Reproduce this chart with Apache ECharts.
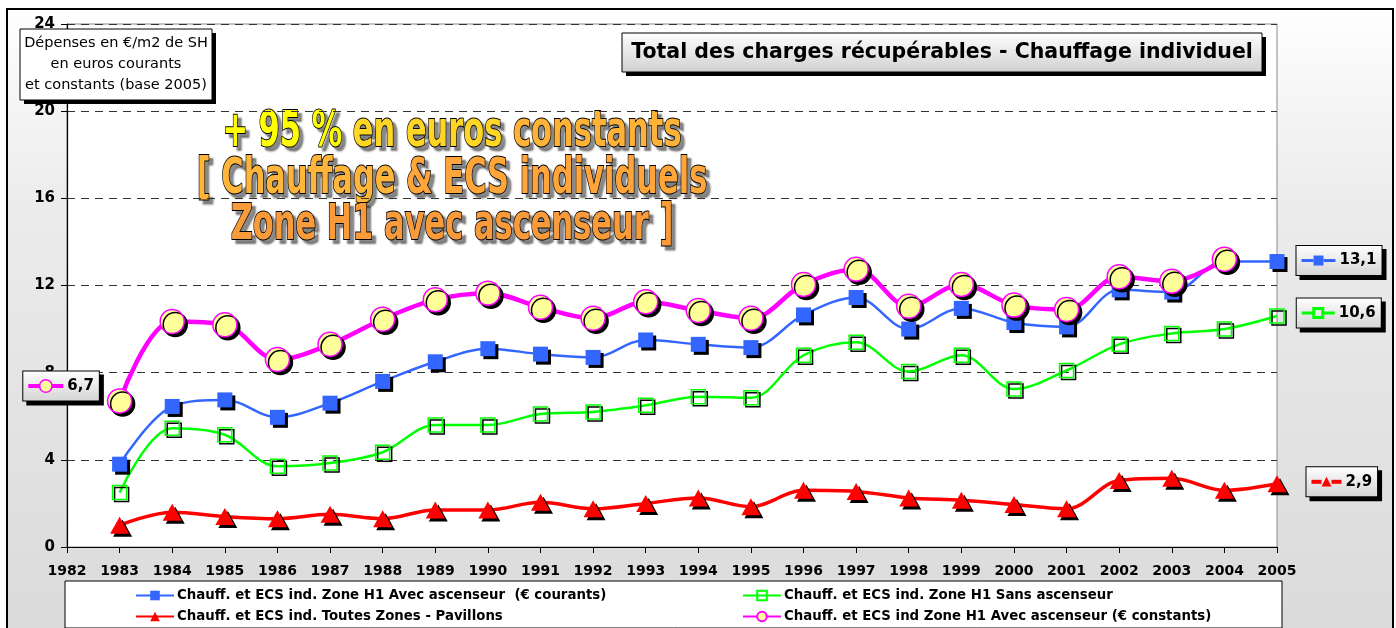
<!DOCTYPE html>
<html>
<head>
<meta charset="utf-8">
<script src="https://cdn.jsdelivr.net/npm/echarts@6/dist/echarts.min.js"></script>
<style>
html,body{margin:0;padding:0;background:#fff;}
#c{width:1396px;height:628px;}
</style>
</head>
<body>
<div id="c"></div>
<script>
// ---- data ----
const years = [1983,1984,1985,1986,1987,1988,1989,1990,1991,1992,1993,1994,1995,1996,1997,1998,1999,2000,2001,2002,2003,2004,2005];
const courants = [3.8,6.45,6.75,5.95,6.6,7.6,8.5,9.1,8.85,8.7,9.5,9.3,9.15,10.65,11.45,10.0,10.95,10.3,10.1,11.8,11.7,13.1,13.1];
const sansAscenseur = [2.5,5.45,5.15,3.7,3.85,4.35,5.6,5.6,6.1,6.2,6.5,6.9,6.85,8.8,9.4,8.05,8.8,7.25,8.1,9.3,9.8,10.0,10.6];
const pavillons = [1.0,1.6,1.4,1.3,1.5,1.3,1.7,1.7,2.05,1.75,2.0,2.25,1.85,2.6,2.55,2.25,2.15,1.95,1.75,3.05,3.15,2.6,2.9];
const constants = [6.7,10.35,10.2,8.6,9.3,10.45,11.35,11.65,11.0,10.5,11.25,10.85,10.5,12.05,12.75,11.05,12.05,11.1,10.9,12.4,12.2,13.2];
const yTicks = [0,4,8,12,16,20,24];
const seriesNames = [
  'Chauff. et ECS ind. Zone H1 Avec ascenseur  (€ courants)',
  'Chauff. et ECS ind. Zone H1 Sans ascenseur',
  'Chauff. et ECS ind. Toutes Zones - Pavillons',
  'Chauff. et ECS ind Zone H1 Avec ascenseur (€ constants)'
];
const titleText = 'Total des charges récupérables - Chauffage individuel';
const unitLines = ['Dépenses en €/m2 de SH', 'en euros courants', 'et constants (base 2005)'];
const noteParts = [
  [['+ 95 % ', 'a'], ['en euros ', 'b'], ['constants', 'c']],
  [['[ Chauffage ', 'd'], ['& ECS individuels', 'e']],
  [['Zone H1 avec ascenseur ]', 'f']]
];

// ---- styles ----
const BLUE = '#3366ff', GREEN = '#00ff00', RED = '#ff0000', MAG = '#ff00ff', YEL = '#ffff99';
const BOLD = "'DejaVu Sans', Verdana, sans-serif";
const NARROW = "'Liberation Sans Narrow', 'DejaVu Sans Condensed', 'Roboto Condensed', 'Liberation Sans', sans-serif";
const shadow = {shadowColor:'#000', shadowOffsetX:3, shadowOffsetY:3, shadowBlur:0};

const chart = echarts.init(document.getElementById('c'));

function fmt(v){ return v.toFixed(1).replace('.', ','); }

function labelBox(pos, dist, offset, keyRich, keyStr){
  return {
    show: true, position: pos, distance: dist, offset: offset,
    formatter: function(p){ return keyStr + '{v|' + fmt(p.value[1]) + '}'; },
    backgroundColor: new echarts.graphic.LinearGradient(0,0,0,1,[{offset:0,color:'#ffffff'},{offset:1,color:'#d4d4d4'}]),
    borderColor: '#000', borderWidth: 1, padding: [5,5,5,5],
    shadowColor:'#000', shadowOffsetX:4, shadowOffsetY:4, shadowBlur:0,
    rich: Object.assign({
      v: {fontFamily: BOLD, fontWeight:'bold', fontSize:15, color:'#000', padding:[0,0,0,4], lineHeight:19}
    }, keyRich)
  };
}

function makeData(vals, labelIndex, label){
  return vals.map(function(v,i){
    const d = {value:[years[i], v]};
    if (i === labelIndex) d.label = label;
    return d;
  });
}

const lineTok = function(c){ return {width:12, height:3, backgroundColor:c, fontSize:1, verticalAlign:'middle'}; };

const blueLabel = labelBox('right', 12, [0,-1], {
  l: lineTok(BLUE), s: {width:10, height:10, backgroundColor:BLUE, fontSize:1}
}, '{l| }{s| }{l| }');
const greenLabel = labelBox('right', 12, [0,-3], {
  l: lineTok(GREEN), s: {width:9, height:9, borderColor:GREEN, borderWidth:1.5, backgroundColor:'transparent', fontSize:1}
}, '{l| }{s| }{l| }');
const redLabel = labelBox('right', 20, [0,-2], {
  l: {width:10, height:4, backgroundColor:RED, fontSize:1},
  t: {fontSize:13, color:RED, fontFamily:BOLD, lineHeight:19}
}, '{l| }{t|▲}{l| }');
const magLabel = labelBox('left', 8, [0,-15], {
  l: {width:12, height:4, backgroundColor:MAG, fontSize:1},
  c: {width:11, height:11, borderRadius:6, backgroundColor:YEL, borderColor:MAG, borderWidth:1.5, fontSize:1}
}, '{l| }{c| }{l| }');

function legendAt(name, left, top){
  return {
    data:[name], left:left, top:top, orient:'horizontal',
    itemWidth:38, itemHeight:12, itemGap:4, padding:0,
    textStyle:{fontFamily:NARROW, fontWeight:'bold', fontSize:14.8, color:'#000', padding:[0,0,0,-2]},
    selectedMode:false
  };
}

const noteRich = {
  a:{fill:'#ffff00'}, b:{fill:'#ffd626'}, c:{fill:'#ffb238'},
  d:{fill:'#ffb43a'}, e:{fill:'#ffa53a'}, f:{fill:'#f99b3a'}
};
function noteText(parts, cy){
  const txt = parts.map(function(p){ return '{' + p[1] + '|' + p[0] + '}'; }).join('');
  return {
    type:'group', x:452, y:cy, scaleX:0.61, z:50,
    children:[{
      type:'text', x:0, y:0,
      style:{text:txt, rich:noteRich, font:"bold 50px 'DejaVu Sans', sans-serif", textAlign:'center', textVerticalAlign:'middle',
        fill:'#ffb238', stroke:'#000', lineWidth:2,
        textShadowColor:'rgba(0,0,0,0.45)', textShadowOffsetX:4, textShadowOffsetY:4, textShadowBlur:2}
    }]
  };
}

const option = {
  backgroundColor:'#ffffff',
  animation:false,
  grid:{left:67, right:119, top:24, bottom:81, show:true, backgroundColor:'#ffffff', borderColor:'#8a8a8a', borderWidth:1},
  xAxis:{
    type:'value', min:1982, max:2005, interval:1,
    axisLine:{show:true, lineStyle:{color:'#000', width:1.2}},
    axisTick:{show:true, length:6, lineStyle:{color:'#000'}},
    axisLabel:{formatter:function(v){return String(v);}, fontFamily:BOLD, fontWeight:'bold', fontSize:14, color:'#000', margin:17},
    splitLine:{show:false}
  },
  yAxis:{
    type:'value', min:yTicks[0], max:yTicks[yTicks.length-1], interval:4,
    axisLine:{show:true, lineStyle:{color:'#000', width:1.2}},
    axisTick:{show:true, length:6, lineStyle:{color:'#000'}},
    axisLabel:{fontFamily:BOLD, fontWeight:'bold', fontSize:15, color:'#000', margin:12},
    splitLine:{show:true, lineStyle:{color:'#333', type:[8,6], width:1}}
  },
  legend:[
    legendAt(seriesNames[0], 135, 588),
    legendAt(seriesNames[1], 742, 588),
    legendAt(seriesNames[2], 135, 609),
    legendAt(seriesNames[3], 742, 609)
  ],
  graphic:[
    {type:'rect', z:-100, shape:{x:7,y:9,width:1386,height:630},
      style:{fill:new echarts.graphic.LinearGradient(0,0,0,1,[{offset:0,color:'#ffffff'},{offset:0.3,color:'#ececec'},{offset:1,color:'#dadada'}]), stroke:'#000', lineWidth:2}},
    {type:'rect', z:-50, shape:{x:65,y:581,width:1217,height:47}, style:{fill:'#ffffff', stroke:'#000', lineWidth:1}},
    {type:'rect', z:60, shape:{x:626,y:37,width:640,height:39}, style:{fill:'#000'}},
    {type:'rect', z:61, shape:{x:622,y:33,width:640,height:39},
      style:{fill:new echarts.graphic.LinearGradient(0,0,0,1,[{offset:0,color:'#ffffff'},{offset:1,color:'#d0d0d0'}]), stroke:'#000', lineWidth:1}},
    {type:'text', z:62, x:942, y:53, style:{text:titleText, font:"bold 20.5px 'DejaVu Sans', sans-serif", textAlign:'center', textVerticalAlign:'middle', fill:'#000'}},
    {type:'rect', z:60, shape:{x:24,y:33,width:192,height:71}, style:{fill:'#000'}},
    {type:'rect', z:61, shape:{x:20,y:29,width:192,height:71}, style:{fill:'#ffffff', stroke:'#000', lineWidth:1}},
    {type:'text', z:62, x:116, y:43, style:{text:unitLines[0], font:"14.5px 'DejaVu Sans', sans-serif", textAlign:'center', textVerticalAlign:'middle', fill:'#000'}},
    {type:'text', z:62, x:116, y:64, style:{text:unitLines[1], font:"14.5px 'DejaVu Sans', sans-serif", textAlign:'center', textVerticalAlign:'middle', fill:'#000'}},
    {type:'text', z:62, x:116, y:85, style:{text:unitLines[2], font:"14.5px 'DejaVu Sans', sans-serif", textAlign:'center', textVerticalAlign:'middle', fill:'#000'}},
    noteText(noteParts[0], 133),
    noteText(noteParts[1], 180),
    noteText(noteParts[2], 226)
  ],
  series:[
    {name:seriesNames[0], type:'line', smooth:0.35, z:3,
      data:makeData(courants, courants.length-1, blueLabel),
      symbol:'rect', symbolSize:15,
      lineStyle:{color:BLUE, width:2.5},
      itemStyle:Object.assign({color:BLUE}, shadow)},
    {name:seriesNames[1], type:'line', smooth:0.35, z:3,
      data:makeData(sansAscenseur, sansAscenseur.length-1, greenLabel),
      symbol:'rect', symbolSize:14,
      lineStyle:{color:GREEN, width:2.5},
      itemStyle:{color:'rgba(255,255,255,0)', borderColor:GREEN, borderWidth:1.5, shadowColor:'#000', shadowOffsetX:2, shadowOffsetY:2, shadowBlur:0}},
    {name:seriesNames[2], type:'line', smooth:0.35, z:3,
      data:makeData(pavillons, pavillons.length-1, redLabel),
      symbol:'triangle', symbolSize:[19,17],
      lineStyle:{color:RED, width:3.5},
      itemStyle:Object.assign({color:RED}, shadow)},
    {name:seriesNames[3], type:'line', smooth:0.35, z:4,
      data:makeData(constants, 0, magLabel),
      symbol:'circle', symbolSize:24,
      lineStyle:{color:MAG, width:4.5},
      itemStyle:Object.assign({color:YEL, borderColor:MAG, borderWidth:1.5}, shadow)}
  ]
};
chart.setOption(option);
</script>
</body>
</html>
